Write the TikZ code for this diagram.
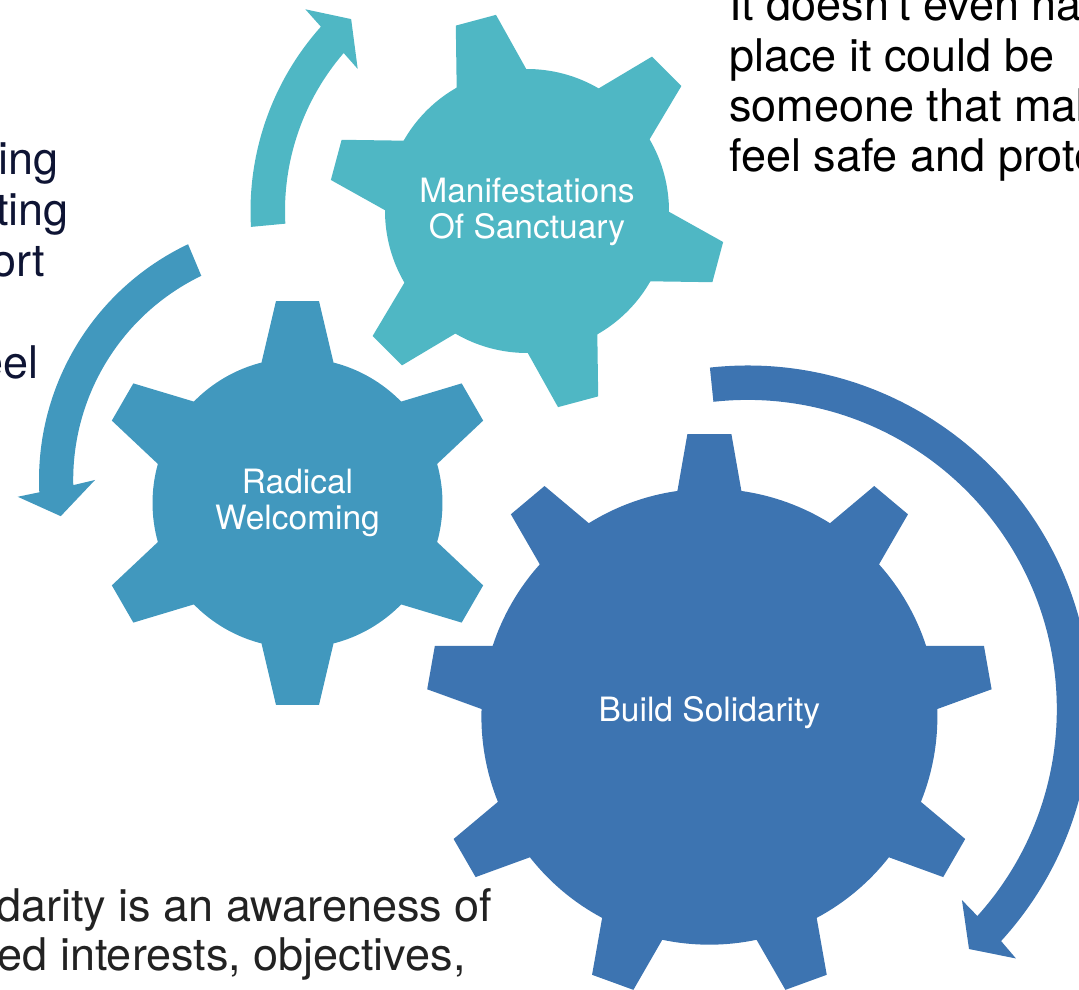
\documentclass[tikz,border=0pt]{standalone}
\usepackage{fontspec}
\setmainfont{TeX Gyre Heros}
\definecolor{cteal}{RGB}{79,183,196}
\definecolor{cmid}{RGB}{65,152,190}
\definecolor{cblue}{RGB}{61,116,177}
\definecolor{navytxt}{RGB}{14,20,52}
\definecolor{graytxt}{RGB}{34,34,34}
% #1 cx, #2 cy, #3 teeth, #4 first tooth angle, #5 body radius,
% #6 tooth top distance, #7 half top width, #8 half base width, #9 colour
\newcommand\mygear[9]{%
  \pgfmathsetmacro\gbeta{asin(#8/#5)}%
  \pgfmathsetmacro\ggamma{atan(#7/#6)}%
  \pgfmathsetmacro\gro{#6/cos(\ggamma)}%
  \pgfmathsetmacro\gstep{360/#3}%
  \pgfmathtruncatemacro\glast{#3-1}%
  \pgfmathsetmacro\gfirst{#4-\gbeta}%
  \begin{scope}[shift={(#1,#2)}]
  \fill[#9] (\gfirst:#5)
    \foreach \k [evaluate=\k as \ta using #4+\k*\gstep] in {0,...,\glast}{
      -- ({\ta-\ggamma}:\gro) -- ({\ta+\ggamma}:\gro) -- ({\ta+\gbeta}:#5)
      arc[start angle={\ta+\gbeta}, end angle={\ta+\gstep-\gbeta}, radius=#5]
    } -- cycle;
  \end{scope}%
}
\begin{document}
\begin{tikzpicture}[x=1pt,y=1pt,
  gearlabel/.style={text=white, align=center, inner sep=0pt, font=\fontsize{33.5}{36}\selectfont},
  bodytext/.style={inner sep=0pt, font=\fontsize{45}{50}\selectfont}]
\useasboundingbox (0,0) rectangle (1079,989);
\clip (0,0) rectangle (1079,989);

% gears
\mygear{297.5}{486}{6}{90}{145}{202}{21.5}{36}{cmid}
\mygear{527}{778}{6}{105}{142}{197.5}{20.8}{36}{cteal}
\mygear{709.4}{272.3}{9}{90}{228}{282.7}{22}{32}{cblue}

% arrows
\begin{scope}[shift={(527,778)}]
\fill[cteal] (183.3:276.5) arc[start angle=183.3, end angle=138.2, radius=276.5]
  -- (137.7:299.7) -- (132.5:260.3) -- (140.0:221) -- (139.25:242)
  arc[start angle=139.25, end angle=183.0, radius=242] -- cycle;
\end{scope}
\begin{scope}[shift={(300,509)}]
\fill[cmid] (115.4:261) arc[start angle=115.4, end angle=182.7, radius=261]
  -- (183.4:282.8) -- (188.6:242) -- (180:205) -- (181.3:226.8)
  arc[start angle=181.3, end angle=115.8, radius=226.8] -- cycle;
\end{scope}
\begin{scope}[shift={(747.6,279.9)}]
\fill[cblue] (96.3:343.6) arc[start angle=96.3, end angle=-42.46, radius=343.6]
  -- (-42.9:366.3) -- (-47.3:326.5) -- (-41.7:287.1) -- (-42.0:309.2)
  arc[start angle=-42.0, end angle=96.35, radius=309.2] -- cycle;
\end{scope}

% gear labels
\node[gearlabel] (ms) at (527,777.3) {Manifestations\\Of Sanctuary};
\node[gearlabel] (rw) at (297.5,485.7) {Radical\\Welcoming};
\node[gearlabel] (bs) at (709.4,276.4) {Build Solidarity};

% top right text
\node[bodytext, text=black, anchor=base west] (tr1) at (729,968) {It doesn’t even hav};
\node[bodytext, text=black, anchor=base west] (tr2) at (729,917.7) {place it could be};
\node[bodytext, text=black, anchor=base west] (tr3) at (729,867.4) {someone that mak};
\node[bodytext, text=black, anchor=base west] (tr4) at (729,817.1) {feel safe and prote};

% left text
\node[bodytext, text=navytxt, anchor=base east] (l1) at (59,814) {ing};
\node[bodytext, text=navytxt, anchor=base east] (l2) at (69,763) {ting};
\node[bodytext, text=navytxt, anchor=base east] (l3) at (45.3,712) {ort};
\node[bodytext, text=navytxt, anchor=base east] (l4) at (38.8,610) {eel};

% bottom text
\node[bodytext, text=graytxt, anchor=base east] (b1) at (492.4,68) {darity is an awareness of};
\node[bodytext, text=graytxt, anchor=base east] (b2) at (465.7,19) {ed interests, objectives,};
\end{tikzpicture}
\end{document}
